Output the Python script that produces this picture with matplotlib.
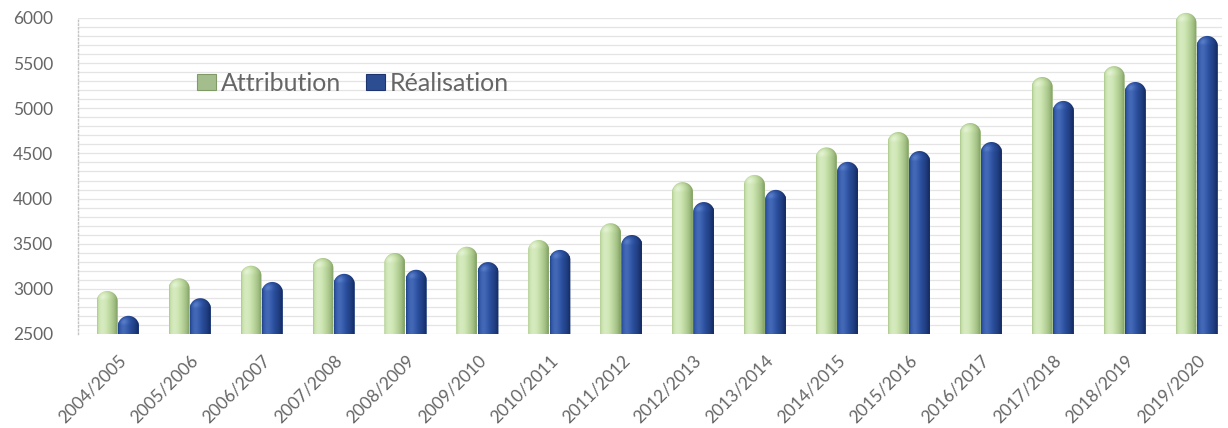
import numpy as np
import matplotlib
matplotlib.use("Agg")
import matplotlib.pyplot as plt
from matplotlib.path import Path
from matplotlib.patches import PathPatch, Patch
from matplotlib.colors import to_rgb

seasons = ["2004/2005", "2005/2006", "2006/2007", "2007/2008", "2008/2009",
           "2009/2010", "2010/2011", "2011/2012", "2012/2013", "2013/2014",
           "2014/2015", "2015/2016", "2016/2017", "2017/2018", "2018/2019",
           "2019/2020"]
attribution = [2910, 3050, 3190, 3275, 3330, 3400, 3475, 3660, 4115, 4195,
               4500, 4670, 4770, 5280, 5400, 5990]
realisation = [2635, 2830, 3010, 3100, 3145, 3230, 3365, 3530, 3895, 4030,
               4340, 4460, 4560, 5015, 5225, 5735]
series_labels = ["Attribution", "Réalisation"]

plt.rcParams["font.family"] = ["Lato", "DejaVu Sans"]

W, H, DPI = 1228, 428, 100
fig = plt.figure(figsize=(W / DPI, H / DPI), dpi=DPI)
ax_left, ax_right, ax_top, ax_bottom = 78, 1222, 18, 334
ax = fig.add_axes([ax_left / W, 1 - ax_bottom / H,
                   (ax_right - ax_left) / W, (ax_bottom - ax_top) / H])

y_floor, y_ceil = 2500, 6000
x_lo, x_hi = -0.556, 15.35
px_per_y = (ax_bottom - ax_top) / (y_ceil - y_floor)

x = np.arange(len(seasons))
bar_w = 0.29
offsets = [-0.15, 0.145]
# (shadow, body, highlight) for each series
palettes = [
    ("#8aa86c", "#c6e1a8", "#f0f9e6"),
    ("#172f68", "#2c52a3", "#6a90d8"),
]
legend_colors = [("#7f9a68", "#a3bd8c"), ("#1c3470", "#2d4d92")]

light = np.array([-0.45, 0.35, 0.82])
light /= np.linalg.norm(light)


def cylinder(rect, colors):
    """Replace a flat bar with a shaded, round-topped cylinder."""
    x0 = rect.get_x()
    w = rect.get_width()
    base = rect.get_y()
    val = base + rect.get_height()
    x1 = x0 + w
    ry = 10 / px_per_y
    yc = val - 4 / px_per_y
    top = yc + ry

    theta = np.linspace(np.pi, 0, 40)
    arc = np.column_stack([x0 + w / 2 + w / 2 * np.cos(theta),
                           yc + ry * np.sin(theta)])
    verts = np.vstack([[x0, base], [x0, yc], arc, [x1, yc], [x1, base], [x0, base]])
    codes = [Path.MOVETO] + [Path.LINETO] * (len(verts) - 2) + [Path.CLOSEPOLY]
    clip = PathPatch(Path(verts, codes), transform=ax.transData,
                     fc="none", ec="none")
    ax.add_patch(clip)
    rect.set_clip_path(clip)
    rect.set_clip_box(fig.bbox)

    nx = 48
    ny = max(int((top - base) * px_per_y * 2), 4)
    t = np.linspace(-1, 1, nx)[None, :]
    yy = np.linspace(base, top, ny)[:, None]
    u = np.clip((yy - yc) / ry, 0, None)
    nz = np.sqrt(np.clip(1 - t ** 2 - u ** 2, 0, None))
    n_x = np.broadcast_to(t, nz.shape)
    n_y = np.broadcast_to(u, nz.shape)
    diff = np.clip(n_x * light[0] + n_y * light[1] + nz * light[2], 0, 1)
    dark, mid, hi = (np.array(to_rgb(c)) for c in colors)
    d = diff[..., None]
    rgb = dark + (mid - dark) * np.clip(d * 1.15, 0, 1)
    spec = (diff ** 10)[..., None] * 0.7
    rgb = rgb * (1 - spec) + hi * spec
    im = ax.imshow(np.clip(rgb, 0, 1), extent=(x0, x1, base, top),
                   origin="lower", aspect="auto", interpolation="bilinear",
                   zorder=3)
    im.set_clip_path(clip)
    im.set_clip_box(fig.bbox)


for values, off, pal in zip([attribution, realisation], offsets, palettes):
    vals = np.asarray(values, dtype=float)
    bars = ax.bar(x + off, vals - y_floor, bottom=y_floor, width=bar_w,
                  color=pal[1], zorder=2)
    for rect in bars:
        cylinder(rect, pal)

ax.set_xlim(x_lo, x_hi)
ax.set_ylim(y_floor, y_ceil)

ax.set_yticks(np.arange(y_floor, y_ceil + 1, 500))
ax.set_yticks(np.arange(y_floor, y_ceil + 1, 100), minor=True)
ax.grid(which="both", axis="y", color="#e4e4e4", lw=0.9)
ax.set_axisbelow(True)

ax.set_xticks(x)
ax.set_xticklabels(seasons, rotation=45, ha="right", rotation_mode="anchor")
ax.tick_params(axis="x", length=0, pad=13, labelsize=12.5, labelcolor="#666666")
ax.tick_params(axis="y", which="both", length=0, pad=18, labelsize=12.5,
               labelcolor="#666666")

for side in ("top", "right", "bottom"):
    ax.spines[side].set_visible(False)
ax.spines["left"].set_color("#c4c4c4")
ax.spines["left"].set_linestyle(":")
ax.spines["left"].set_linewidth(1.0)

handles = [Patch(facecolor=c[1], edgecolor=c[0], lw=0.8) for c in legend_colors]
ax.legend(handles, series_labels, ncol=2, frameon=False, fontsize=18,
          loc="center left", bbox_to_anchor=(0.104, 0.794), borderpad=0,
          borderaxespad=0, handlelength=0.75, handleheight=0.6,
          handletextpad=0.2, columnspacing=1.0, labelcolor="#666666")

fig.savefig("out.png", dpi=DPI)
